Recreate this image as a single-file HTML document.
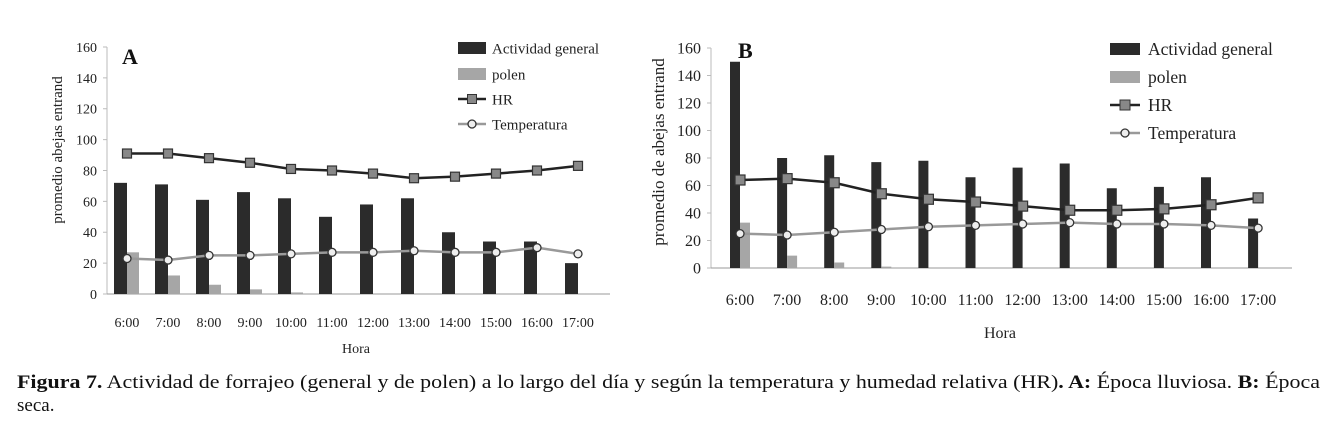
<!DOCTYPE html>
<html><head><meta charset="utf-8"><style>
html,body{margin:0;padding:0;background:#fff;}
svg{display:block;font-family:"Liberation Serif",serif;}
</style></head><body>
<svg id="fig" width="1337" height="428" viewBox="0 0 1337 428" xmlns="http://www.w3.org/2000/svg">
<g id="chartA"></g>
<g id="chartB"></g>
<text x="17" y="388" font-size="19" textLength="1303" lengthAdjust="spacingAndGlyphs" fill="#111"><tspan font-weight="bold">Figura 7.</tspan> Actividad de forrajeo (general y de polen) a lo largo del día y según la temperatura y humedad relativa (HR)<tspan font-weight="bold">. A:</tspan> Época lluviosa. <tspan font-weight="bold">B:</tspan> Época</text>
<text x="17" y="411" font-size="19" fill="#111">seca.</text>
</svg>
<script>
const categories = ["6:00","7:00","8:00","9:00","10:00","11:00","12:00","13:00","14:00","15:00","16:00","17:00"];
const yTicks = [0,20,40,60,80,100,120,140,160];
const generalA = [72,71,61,66,62,50,58,62,40,34,34,20];
const polenA = [27,12,6,3,1,0,0,0,0,0,0,0];
const hrA = [91,91,88,85,81,80,78,75,76,78,80,83];
const tempA = [23,22,25,25,26,27,27,28,27,27,30,26];
const generalB = [150,80,82,77,78,66,73,76,58,59,66,36];
const polenB = [33,9,4,1,0,0,0,0,0,0,0,0];
const hrB = [64,65,62,54,50,48,45,42,42,43,46,51];
const tempB = [25,24,26,28,30,31,32,33,32,32,31,29];

const NS="http://www.w3.org/2000/svg";
function mk(parent,tag,attrs,text){
  const e=document.createElementNS(NS,tag);
  for(const k in attrs) e.setAttribute(k,attrs[k]);
  if(text!==undefined) e.textContent=text;
  parent.appendChild(e); return e;
}
function draw(g,cfg,gen,pol,hr,tmp){
  const y=v=>cfg.base-(v/160)*(cfg.base-cfg.top);
  const x=i=>cfg.x0+i*cfg.step;
  const fs=cfg.fs;
  let e=mk(g,'line',{x1:cfg.ax,y1:cfg.top,x2:cfg.ax,y2:cfg.base,stroke:'#bbb','stroke-width':1});
   
  e=mk(g,'line',{x1:cfg.ax-4,y1:cfg.base,x2:cfg.right,y2:cfg.base,stroke:'#999','stroke-width':1});
   
  yTicks.forEach(t=>{
    mk(g,'line',{x1:cfg.ax-4,y1:y(t),x2:cfg.ax,y2:y(t),stroke:'#bbb'});
    const tx=mk(g,'text',{x:cfg.ax-10,y:y(t)+fs*0.35,'font-size':fs,'text-anchor':'end',fill:'#222'},t);
    
    
  });
  categories.forEach((c,i)=>{
    const tx=mk(g,'text',{x:x(i),y:cfg.labY,'font-size':fs,'text-anchor':'middle',fill:'#222'},c);
    
    
  });
  gen.forEach((v,i)=>{
    const r=mk(g,'rect',{x:x(i)-cfg.bw,y:y(v),width:cfg.bw,height:cfg.base-y(v),fill:'#2b2b2b'});
    
    
  });
  pol.forEach((v,i)=>{
    if(v<=0) return;
    const r=mk(g,'rect',{x:x(i),y:y(v),width:cfg.pw,height:cfg.base-y(v),fill:'#a6a6a6'});
    
    
  });
  const tl=mk(g,'polyline',{points:tmp.map((v,i)=>x(i)+','+y(v)).join(' '),fill:'none',stroke:'#999','stroke-width':2.5});
   
  const hl=mk(g,'polyline',{points:hr.map((v,i)=>x(i)+','+y(v)).join(' '),fill:'none',stroke:'#222','stroke-width':2.5});
   
  tmp.forEach((v,i)=>{
    const c=mk(g,'circle',{cx:x(i),cy:y(v),r:4,fill:'#eee',stroke:'#333','stroke-width':1.3});
     
  });
  hr.forEach((v,i)=>{
    const s=cfg.ms;
    const r=mk(g,'rect',{x:x(i)-s/2,y:y(v)-s/2,width:s,height:s,fill:'#888',stroke:'#333','stroke-width':1.2});
     
  });
  let t=mk(g,'text',{x:cfg.letX,y:cfg.letY,'font-size':cfg.letFs,'font-weight':'bold',fill:'#111'},cfg.letter);
   
  t=mk(g,'text',{x:0,y:0,'font-size':cfg.tfs,'text-anchor':'middle',fill:'#222',transform:`translate(${cfg.ytX},${cfg.ytY}) rotate(-90)`},cfg.ytitle);
   
  t=mk(g,'text',{x:cfg.xtX,y:cfg.xtY,'font-size':fs,'text-anchor':'middle',fill:'#222'},'Hora');
   
  const L=cfg.leg, lf=cfg.legFs;
  let r=mk(g,'rect',{x:L.x,y:L.y[0]-6,width:L.w,height:12,fill:'#2b2b2b'});
   
  r=mk(g,'rect',{x:L.x,y:L.y[1]-6,width:L.w,height:12,fill:'#a6a6a6'});
   
  mk(g,'line',{x1:L.x,y1:L.y[2],x2:L.x+L.w,y2:L.y[2],stroke:'#222','stroke-width':2.5});
  mk(g,'rect',{x:L.x+L.w/2-cfg.ms/2,y:L.y[2]-cfg.ms/2,width:cfg.ms,height:cfg.ms,fill:'#888',stroke:'#333'});
  mk(g,'line',{x1:L.x,y1:L.y[3],x2:L.x+L.w,y2:L.y[3],stroke:'#999','stroke-width':2.5});
  mk(g,'circle',{cx:L.x+L.w/2,cy:L.y[3],r:4,fill:'#eee',stroke:'#333','stroke-width':1.3});
  ['Actividad general','polen','HR','Temperatura'].forEach((s,i)=>{
    const tx=mk(g,'text',{x:L.tx,y:L.y[i]+lf*0.35,'font-size':lf,fill:'#222'},s);
    
    
  });
}
draw(document.getElementById('chartA'),{
  ax:107,right:610,top:47,base:294,x0:127,step:41,bw:13,pw:12,ms:9,fs:14,labY:327,
  letter:'A',letX:122,letY:64,letFs:22,ytitle:'promedio abejas entrand',ytX:62,ytY:150,tfs:15,
  xtX:356,xtY:353,leg:{x:458,w:28,tx:492,y:[48,74,99,124]},legFs:15
},generalA,polenA,hrA,tempA);
draw(document.getElementById('chartB'),{
  ax:711,right:1292,top:48,base:268,x0:740,step:47.1,bw:10,pw:10,ms:10,fs:16,labY:305,
  letter:'B',letX:738,letY:58,letFs:22,ytitle:'promedio de abejas entrand',ytX:664,ytY:152,tfs:17,
  xtX:1000,xtY:338,leg:{x:1110,w:30,tx:1148,y:[49,77,105,133]},legFs:17.5
},generalB,polenB,hrB,tempB);
</script>
</body></html>
